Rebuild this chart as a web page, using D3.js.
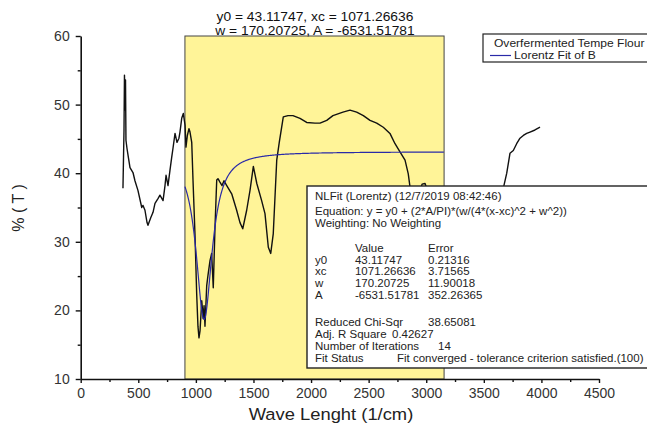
<!DOCTYPE html>
<html>
<head>
<meta charset="utf-8">
<script src="https://cdn.jsdelivr.net/npm/d3@7"></script>
<style>
  body { margin: 0; background: #fff; }
  svg { display: block; }
  text { font-family: "Liberation Sans", Arial, sans-serif; }
</style>
</head>
<body>
<svg id="chart" width="647" height="426"></svg>
<script>
// FTIR spectrum of overfermented tempe flour (wave number in 1/cm, transmittance in %)
const waveNumber = [367, 376, 380, 385, 389, 393, 402, 415, 428, 454, 471, 497, 530, 541, 558, 576, 584, 608, 628, 645,
  671, 688, 715, 732, 741, 758, 775, 790, 801, 819, 836, 853, 862, 877, 891, 906, 914, 926, 940, 949,
  964, 975, 992, 1007, 1018, 1027, 1036, 1051, 1064, 1071, 1079, 1094, 1105, 1123, 1137, 1151, 1166, 1181, 1192, 1209,
  1227, 1244, 1268, 1311, 1354, 1383, 1407, 1441, 1470, 1499, 1529, 1571, 1600, 1629, 1650, 1672, 1702, 1724, 1759, 1800,
  1843, 1904, 1962, 2034, 2078, 2136, 2190, 2277, 2338, 2396, 2454, 2512, 2570, 2627, 2685, 2729, 2772, 2816, 2844, 2859,
  2885, 2929, 2964, 2990, 3016, 3120, 3294, 3468, 3598, 3669, 3699, 3727, 3756, 3785, 3814, 3843, 3872, 3901, 3944, 3988];
const transmittance = [37.8, 46.3, 54.3, 49.2, 53.6, 44.8, 43.6, 42.2, 40.8, 40.1, 38.9, 37.5, 35.0, 35.3, 34.6, 32.8, 32.4, 33.5, 34.3, 35.6,
  36.3, 36.8, 36.0, 38.2, 39.7, 38.2, 40.4, 42.3, 43.6, 45.8, 44.5, 45.1, 46.0, 48.0, 48.7, 47.0, 43.8, 45.5, 46.5, 46.0,
  44.5, 39.0, 31.2, 22.4, 17.7, 16.0, 17.0, 21.4, 18.8, 20.7, 17.7, 23.6, 25.1, 27.3, 28.3, 23.3, 32.1, 39.0, 39.2, 38.7,
  38.2, 38.9, 38.2, 37.0, 34.6, 32.8, 31.9, 34.6, 37.5, 41.0, 38.5, 36.0, 34.1, 29.2, 28.3, 31.2, 41.9, 44.5, 48.2, 48.4,
  48.4, 48.0, 47.4, 47.3, 47.3, 47.7, 48.4, 48.9, 49.2, 48.9, 48.4, 47.7, 47.3, 46.7, 45.8, 44.3, 43.1, 41.9, 39.9, 38.0,
  36.0, 36.8, 38.4, 38.5, 37.2, 31.6, 29.4, 30.2, 32.4, 37.8, 40.0, 42.9, 43.3, 44.3, 45.1, 45.5, 45.8, 46.0, 46.3, 46.7];

// Lorentz fit parameters (NLFit) and the fitted range
const fitY0 = 43.11747;
const fitXc = 1071.26636;
const fitW = 170.20725;
const fitA = -6531.51781;
const fitRange = [905, 3155];

const xTicks = [0, 500, 1000, 1500, 2000, 2500, 3000, 3500, 4000, 4500];
const xMinorTicks = [250, 750, 1250, 1750, 2250, 2750, 3250, 3750, 4250];
const yTicks = [10, 20, 30, 40, 50, 60];
const yMinorTicks = [15, 25, 35, 45, 55];

const titleLines = ["y0 = 43.11747, xc = 1071.26636", "w = 170.20725, A = -6531.51781"];
const legendLabels = ["Overfermented Tempe Flour", "Lorentz Fit of B"];

const svg = d3.select("#chart");
const x = d3.scaleLinear().domain([0, 4500]).range([80.7, 599]);
const y = d3.scaleLinear().domain([10, 60]).range([379, 36]);

// text in the annotations is set slightly wide
const wide = 1.15;

// highlighted fit range
svg.append("rect")
  .attr("x", x(fitRange[0])).attr("y", y(60))
  .attr("width", x(fitRange[1]) - x(fitRange[0]))
  .attr("height", y(10) - y(60))
  .attr("fill", "#fff498").attr("stroke", "#444").attr("stroke-width", 1);

// spectrum
const line = d3.line().x(d => x(d[0])).y(d => y(d[1]));
svg.append("path")
  .datum(waveNumber.map((w, i) => [w, transmittance[i]]))
  .attr("d", line)
  .attr("fill", "none").attr("stroke", "#111").attr("stroke-width", 1.4)
  .attr("stroke-linejoin", "round");

// Lorentz fit curve over the fitted range
const lorentz = v => fitY0 + (2 * fitA / Math.PI) * (fitW / (4 * (v - fitXc) ** 2 + fitW ** 2));
const fitX = d3.range(fitRange[0], fitRange[1] + 1, 4);
svg.append("path")
  .datum(fitX.map(v => [v, lorentz(v)]))
  .attr("d", line)
  .attr("fill", "none").attr("stroke", "#2a2aa8").attr("stroke-width", 1.2);

// axes
const axisStyle = g => {
  g.selectAll("path.domain").attr("stroke", "#111").attr("stroke-width", 1.6);
  g.selectAll(".tick line").attr("stroke", "#111").attr("stroke-width", 1.4);
  g.selectAll(".tick text").attr("fill", "#333").style("font-size", "14px")
    .style("font-family", "'Liberation Sans', Arial, sans-serif");
};
svg.append("g").attr("transform", `translate(0,${y(10)})`)
  .call(d3.axisBottom(x).tickValues(xMinorTicks).tickSize(3).tickFormat(""))
  .call(g => g.select(".domain").remove())
  .call(axisStyle);
svg.append("g").attr("transform", `translate(0,${y(10)})`)
  .call(d3.axisBottom(x).tickValues(xTicks).tickSize(4).tickSizeOuter(0).tickPadding(5).tickFormat(d3.format("d")))
  .call(axisStyle);
svg.append("g").attr("transform", `translate(${x(0)},0)`)
  .call(d3.axisLeft(y).tickValues(yMinorTicks).tickSize(3).tickFormat(""))
  .call(g => g.select(".domain").remove())
  .call(axisStyle);
svg.append("g").attr("transform", `translate(${x(0)},0)`)
  .call(d3.axisLeft(y).tickValues(yTicks).tickSize(5).tickSizeOuter(0).tickPadding(6).tickFormat(d3.format("d")))
  .call(axisStyle);

// axis titles
svg.append("g").attr("transform", `scale(1.08,1)`)
  .append("text").attr("x", 331 / 1.08).attr("y", 420).attr("text-anchor", "middle")
  .attr("fill", "#222").style("font-size", "17px").text("Wave Lenght (1/cm)");
svg.append("text").attr("transform", "translate(24,208) rotate(-90)").attr("text-anchor", "middle")
  .attr("fill", "#222").style("font-size", "16px").text("% ( T )");

// fit parameter title
svg.append("g").attr("transform", `scale(${wide},1)`)
  .selectAll("text").data(titleLines).join("text")
  .attr("x", 315 / wide).attr("y", (d, i) => 21 + i * 14).attr("text-anchor", "middle")
  .attr("fill", "#111").style("font-size", "12px").text(d => d);

// legend
const lg = svg.append("g");
lg.append("rect").attr("x", 483).attr("y", 34).attr("width", 175).attr("height", 28)
  .attr("fill", "#fff").attr("stroke", "#222").attr("stroke-width", 1.2);
lg.append("line").attr("x1", 490).attr("x2", 511).attr("y1", 55.5).attr("y2", 55.5)
  .attr("stroke", "#2a2aa8").attr("stroke-width", 1.2);
const lgText = lg.append("g").attr("transform", `scale(${wide},1)`);
lgText.append("text").attr("x", 494 / wide).attr("y", 47).attr("fill", "#222").style("font-size", "10.5px").text(legendLabels[0]);
lgText.append("text").attr("x", 514 / wide).attr("y", 59).attr("fill", "#222").style("font-size", "10.5px").text(legendLabels[1]);

// fit report box
const rb = svg.append("g");
rb.append("rect").attr("x", 307).attr("y", 186).attr("width", 350).attr("height", 182)
  .attr("fill", "#fff").attr("stroke", "#222").attr("stroke-width", 1.4);
const rows = [
  [315, 200, "NLFit (Lorentz) (12/7/2019 08:42:46)"],
  [315, 215, "Equation: y = y0 + (2*A/PI)*(w/(4*(x-xc)^2 + w^2))"],
  [315, 227, "Weighting: No Weighting"],
  [355, 252, "Value"], [428, 252, "Error"],
  [315, 264, "y0"], [355, 264, fitY0.toFixed(5)], [428, 264, "0.21316"],
  [315, 275, "xc"], [355, 275, fitXc.toFixed(5)], [428, 275, "3.71565"],
  [315, 287, "w"], [355, 287, fitW.toFixed(5)], [428, 287, "11.90018"],
  [315, 299, "A"], [355, 299, fitA.toFixed(5)], [428, 299, "352.26365"],
  [315, 326, "Reduced Chi-Sqr"], [428, 326, "38.65081"],
  [315, 338, "Adj. R Square"], [392, 338, "0.42627"],
  [315, 350, "Number of Iterations"], [438, 350, "14"],
  [315, 362, "Fit Status"], [397, 362, "Fit converged - tolerance criterion satisfied.(100)"]
];
rb.append("g").attr("transform", `scale(${wide},1)`)
  .selectAll("text").data(rows).join("text")
  .attr("x", d => d[0] / wide).attr("y", d => d[1])
  .attr("fill", "#222").style("font-size", "10px").text(d => d[2]);
</script>
</body>
</html>
